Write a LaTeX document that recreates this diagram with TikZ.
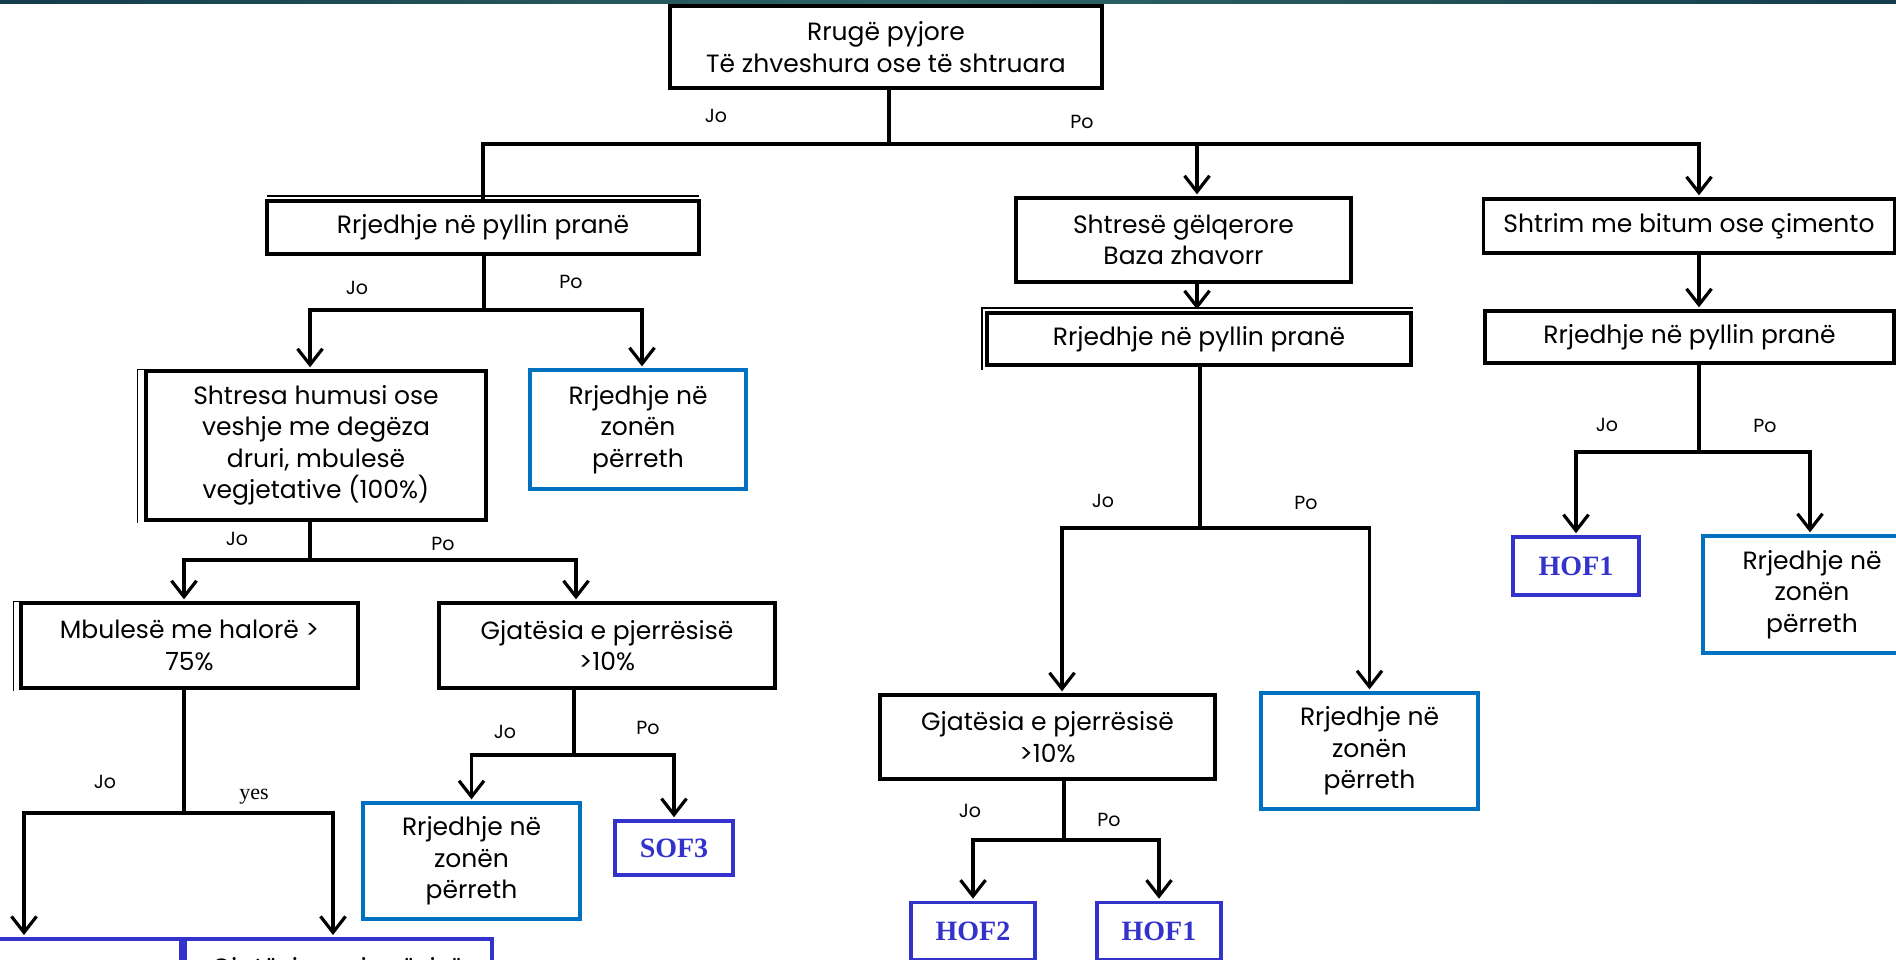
\documentclass[tikz,border=0pt]{standalone}
\usepackage{fontspec}
\setmainfont{Poppins}
\newfontfamily\serifrm{Liberation Serif}
\usetikzlibrary{arrows.meta}
\definecolor{boxblue}{HTML}{0070C0}
\definecolor{hofblue}{HTML}{3333CC}
\definecolor{bandA}{HTML}{143C4C}
\definecolor{bandB}{HTML}{2E6666}
\begin{document}
\begin{tikzpicture}[x=1pt,y=-1pt,
  box/.style={draw=black,line width=3.3pt,align=center,inner sep=2pt,text=black,
    font=\fontsize{25}{31.5}\selectfont},
  zone/.style={box,draw=boxblue},
  codebox/.style={draw=hofblue,line width=3.6pt,text=hofblue,inner sep=2pt,
    font=\serifrm\bfseries\fontsize{28}{32}\selectfont},
  conn/.style={line width=3.4pt},
  ghost/.style={line width=1.5pt},
  arr/.style={conn,-{Straight Barb[length=16pt,width=25pt,line width=3.2pt]},shorten >=2pt},
  lbl/.style={font=\fontsize{19}{21}\selectfont},
  serlbl/.style={font=\serifrm\fontsize{22}{24}\selectfont}
]
\useasboundingbox (0,0) rectangle (1896,960);
\clip (0,0) rectangle (1896,960);
\fill[white] (0,0) rectangle (1896,960);
\shade[left color=bandA,right color=bandA,middle color=bandB] (0,0) rectangle (1896,4);

% ---------- nodes ----------
\node[box,minimum width=432pt,minimum height=82pt] (top) at (886,47)
  {Rrugë pyjore\\Të zhveshura ose të shtruara};

\node[box,minimum width=432pt,minimum height=53pt] (L1) at (483,227.5)
  {Rrjedhje në pyllin pranë};
\node[box,minimum width=340pt,minimum height=149pt] (L2) at (316,445.5)
  {Shtresa humusi ose\\veshje me degëza\\druri, mbulesë\\vegjetative (100\%)};
\node[zone,minimum width=216pt,minimum height=119pt] (L2z) at (638,429.5)
  {Rrjedhje në\\zonën\\përreth};
\node[box,minimum width=337pt,minimum height=85pt] (L3a) at (189.5,645.5)
  {Mbulesë me halorë >\\75\%};
\node[box,minimum width=336pt,minimum height=85pt] (L3b) at (607,645.5)
  {Gjatësia e pjerrësisë\\>10\%};
\node[draw=hofblue,line width=3.6pt,minimum width=311pt,minimum height=120pt,anchor=north] (L4a) at (25.5,937) {};
\node[draw=hofblue,line width=3.6pt,minimum width=307pt,minimum height=120pt,anchor=north] (L4b) at (338.5,937) {};
\node[anchor=base,font=\fontsize{25}{31.5}\selectfont] (L4bt) at (338,976.5) {Gjatësia e pjerrësisë};
\node[zone,minimum width=217pt,minimum height=116pt] (L4z) at (471.5,861)
  {Rrjedhje në\\zonën\\përreth};
\node[codebox,minimum width=118pt,minimum height=54pt] (sof3) at (674,848) {SOF3};

\node[box,minimum width=335pt,minimum height=84pt] (M1) at (1183.5,240)
  {Shtresë gëlqerore\\Baza zhavorr};
\node[box,minimum width=424pt,minimum height=52pt] (M2) at (1199,339)
  {Rrjedhje në pyllin pranë};
\node[box,minimum width=335pt,minimum height=84pt] (M3) at (1047.5,737)
  {Gjatësia e pjerrësisë\\>10\%};
\node[zone,minimum width=217pt,minimum height=116pt] (M3z) at (1369.5,751)
  {Rrjedhje në\\zonën\\përreth};
\node[codebox,minimum width=124pt,minimum height=57pt] (hof2) at (973,931) {HOF2};
\node[codebox,minimum width=124pt,minimum height=57pt] (hof1m) at (1159,931) {HOF1};

\node[box,minimum width=411pt,minimum height=54pt] (R1) at (1689,226)
  {Shtrim me bitum ose çimento};
\node[box,minimum width=409pt,minimum height=52pt] (R2) at (1689.5,337)
  {Rrjedhje në pyllin pranë};
\node[codebox,minimum width=126pt,minimum height=58pt] (hof1r) at (1576,566) {HOF1};
\node[zone,minimum width=218pt,minimum height=117pt] (R3z) at (1812,594.5)
  {Rrjedhje në\\zonën\\përreth};

% ---------- faint offset outlines seen in the reference ----------
\draw[ghost] ([shift={(2pt,3.5pt)}]L1.north west) -- ([shift={(-2pt,3.5pt)}]L1.north east);
\draw[ghost] ([shift={(-7pt,-1pt)}]L2.south west) -- ([shift={(-7pt,0pt)}]L2.north west) -- (L2.north west);
\draw[ghost] ([shift={(-6pt,-1pt)}]L3a.south west) -- ([shift={(-6pt,0pt)}]L3a.north west) -- (L3a.north west);
\draw[ghost] ([shift={(-3.5pt,-3pt)}]M2.south west) -- ([shift={(-3.5pt,3.5pt)}]M2.north west) -- ([shift={(0pt,3.5pt)}]M2.north east);

% ---------- connectors ----------
\coordinate (bT) at (889,144);
\draw[conn] (top.south -| bT) -- (bT);
\draw[conn] (bT) -| (L1.north);
\draw[arr] (bT) -| ([xshift=13.5pt]M1.north);
\draw[arr] (bT) -| ([xshift=10pt]R1.north);

\coordinate (bL1) at (484,310);
\draw[conn] (L1.south -| bL1) -- (bL1);
\draw[arr] (bL1) -| ([xshift=-6pt]L2.north);
\draw[arr] (bL1) -| ([xshift=4pt]L2z.north);

\coordinate (bL2) at (310,560);
\draw[conn] (L2.south -| bL2) -- (bL2);
\draw[arr] (bL2) -| ([xshift=-5.5pt]L3a.north);
\draw[arr] (bL2) -| ([xshift=-31pt]L3b.north);

\coordinate (bL3a) at (184,813);
\draw[conn] (L3a.south -| bL3a) -- (bL3a);
\draw[arr] (bL3a) -| ([xshift=-1.5pt]L4a.north);
\draw[arr] (bL3a) -| ([xshift=-5.5pt]L4b.north);

\coordinate (bL3b) at (574,755);
\draw[conn] (L3b.south -| bL3b) -- (bL3b);
\draw[arr] (bL3b) -| (L4z.north);
\draw[arr] (bL3b) -| (sof3.north);

\draw[arr] ([xshift=13.5pt]M1.south) -- ([xshift=-2pt]M2.north);

\coordinate (bM2) at (1200,528);
\draw[conn] (M2.south -| bM2) -- (bM2);
\draw[arr] (bM2) -| ([xshift=14.5pt]M3.north);
\draw[arr] (bM2) -| (M3z.north);

\coordinate (bM3) at (1064,840);
\draw[conn] (M3.south -| bM3) -- (bM3);
\draw[arr] (bM3) -| (hof2.north);
\draw[arr] (bM3) -| (hof1m.north);

\draw[arr] ([xshift=10pt]R1.south) -- ([xshift=9.5pt]R2.north);

\coordinate (bR2) at (1699,452);
\draw[conn] (R2.south -| bR2) -- (bR2);
\draw[arr] (bR2) -| (hof1r.north);
\draw[arr] (bR2) -| ([xshift=-2pt]R3z.north);

% ---------- labels ----------
\node[lbl] (t1) at (716,116) {Jo};
\node[lbl] (t2) at (1082,122) {Po};
\node[lbl] (t3) at (357,288) {Jo};
\node[lbl] (t4) at (571,282) {Po};
\node[lbl] (t5) at (237,539) {Jo};
\node[lbl] (t6) at (443,544) {Po};
\node[lbl] (t7) at (105,782) {Jo};
\node[serlbl] (t8) at (254,797) {yes};
\node[lbl] (t9) at (505,732) {Jo};
\node[lbl] (t10) at (648,728) {Po};
\node[lbl] (t11) at (1103,501) {Jo};
\node[lbl] (t12) at (1306,503) {Po};
\node[lbl] (t13) at (970,811) {Jo};
\node[lbl] (t14) at (1109,820) {Po};
\node[lbl] (t15) at (1607,425) {Jo};
\node[lbl] (t16) at (1765,426) {Po};
\end{tikzpicture}
\end{document}
